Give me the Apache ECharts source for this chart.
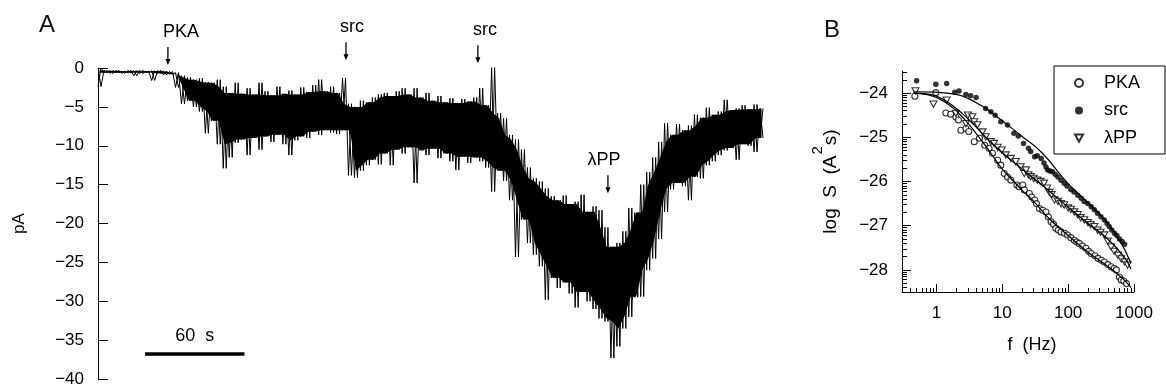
<!DOCTYPE html>
<html>
<head>
<meta charset="utf-8">
<script src="https://cdn.jsdelivr.net/npm/echarts@6/dist/echarts.min.js"></script>
<style>
  html, body { margin: 0; padding: 0; background: #fff; }
  #main { width: 1166px; height: 389px; }
</style>
</head>
<body>
<div id="main"></div>
<script>
// ---- panel A: current trace (pA), envelope every ~3.6 s ----
const traceStep = 3.6; // s
const traceHi = [
  0, -0.3, -0.35, -0.3, -0.4, -0.3, -0.35, -0.3, -0.4, -0.35,
  -0.3, -0.4, -0.45, -0.6, -1.0, -1.2, -1.5, -1.3, -1.8, -1.9,
  -1.5, -2.4, -3.2, -1.9, -3.3, -2.6, -3.4, -1.9, -3.0, -3.5,
  -2.4, -3.3, -2.9, -3.4, -2.5, -3.1, -2.2, -1.5, -3.0, -2.4,
  -3.2, -1.3, -4.6, -5.0, -4.2, -4.4, -3.8, -3.4, -3.2, -3.6,
  -3.0, -2.6, -3.4, -2.6, -3.8, -3.2, -4.2, -3.6, -4.4, -3.9,
  -4.5, -4.0, -4.3, -3.8, -2.6, -4.8, 0.1, -5.8, -6.5, -8.6,
  -9.2, -10.5, -12.8, -14.2, -14.6, -15.5, -16.5, -17.0, -16.4, -17.5,
  -17.2, -16.3, -18.5, -17.8, -18.3, -20.5, -23.0, -22.5, -21.0, -18.0,
  -18.6, -15.0, -13.4, -11.5, -9.5, -7.1, -8.6, -7.2, -8.0, -7.4,
  -6.0, -6.4, -5.1, -6.0, -5.6, -4.1, -5.4, -5.2, -4.8, -5.3,
  -4.7, -5.2
];
const traceLo = [
  -2.4, -0.6, -0.7, -0.6, -0.7, -0.6, -1.0, -0.7, -0.6, -1.6,
  -0.7, -0.9, -0.8, -2.5, -4.6, -4.2, -5.0, -5.6, -8.4, -6.8,
  -9.8, -12.9, -11.5, -9.6, -9.2, -11.2, -9.0, -10.5, -8.8, -9.5,
  -8.6, -9.8, -11.2, -9.3, -8.8, -9.0, -8.2, -8.6, -8.0, -8.3,
  -8.5, -8.0, -13.8, -14.1, -13.2, -12.5, -11.8, -12.4, -11.0, -12.5,
  -10.5, -11.0, -10.2, -14.8, -10.6, -11.2, -10.4, -11.6, -11.0, -12.0,
  -13.1, -11.4, -12.2, -11.5, -12.0, -12.8, -15.9, -13.2, -14.5, -17.0,
  -24.3, -19.5, -22.5, -24.0, -25.5, -29.8, -27.0, -28.3, -27.6, -29.0,
  -30.8, -28.8, -30.0, -31.0, -32.2, -32.6, -37.3, -35.8, -33.5, -32.0,
  -29.5, -29.4, -26.0, -24.5, -22.0, -18.5, -15.6, -14.8, -15.2, -17.0,
  -14.0, -14.2, -12.5, -12.0, -11.2, -10.6, -10.3, -11.8, -9.8, -10.0,
  -10.8, -9.0
];

// drug additions: name, time (s), level of arrow tip (pA)
const eventNames = ['PKA', 'src', 'src', 'λPP'];
const eventTimes = [42.2, 149.7, 229.3, 307.8];
const eventTips = [0.4, 1.0, 0.6, -16.1];

// 60 s scale bar
const scaleBarStart = 28.4;
const scaleBarLen = 60;
const scaleBarLevel = -36.8;

// ---- panel B: spectra, log S (A^2 s) vs f (Hz) ----
const pkaF = [0.47, 0.98, 1.39, 1.65, 1.97, 2.16, 2.35, 2.8, 3.1, 3.75, 4.5, 5.4, 6.3, 7.1, 8.5, 9.5, 10.7, 12,
  13.5, 16.7, 18, 20.5, 21.6, 25.8, 28, 31, 33, 36.6, 41, 46, 50, 55, 60, 65, 71, 78, 88, 98, 110, 124, 135, 147, 165, 186, 205,
  224, 255, 285, 320, 355, 400, 450, 500, 540, 600, 640, 700, 770];
const pkaS = [-24.07, -23.99, -24.45, -24.48, -24.54, -24.61, -24.84, -24.80, -24.87, -25.10, -25.02, -25.18, -25.25, -25.36, -25.52, -25.63, -25.82, -25.90,
  -25.97, -26.08, -26.12, -26.08, -26.19, -26.27, -26.35, -26.42, -26.50, -26.61, -26.65, -26.69, -26.80, -26.91, -26.97, -27.06, -27.10, -27.14, -27.17, -27.21, -27.27, -27.33, -27.37, -27.40, -27.46, -27.51, -27.58,
  -27.63, -27.68, -27.74, -27.78, -27.82, -27.88, -27.93, -27.97, -28.0, -28.16, -28.23, -28.25, -28.31];
const srcF = [0.5, 0.98, 1.43, 1.9, 2.2, 2.8, 3.3, 4.0, 5.6, 6.7, 7.8, 9.5, 12, 15, 17.5, 21, 25, 27, 31, 34, 39, 43, 46, 49, 53, 58, 64, 70,
  78, 87, 96, 110, 123, 140, 158, 175, 198, 224, 250, 280, 315, 355, 390, 420, 460, 505, 550, 600, 660, 720];
const srcS = [-23.72, -23.80, -23.78, -23.98, -23.95, -24.03, -24.06, -24.10, -24.35, -24.42, -24.50, -24.65, -24.72, -24.91, -24.97, -25.14, -25.25, -25.32, -25.44, -25.42, -25.48, -25.58, -25.67, -25.74, -25.76, -25.78, -25.84, -25.90,
  -25.97, -26.04, -26.10, -26.18, -26.24, -26.31, -26.38, -26.45, -26.50, -26.57, -26.64, -26.72, -26.80, -26.87, -26.95, -27.02, -27.10, -27.17, -27.22, -27.30, -27.36, -27.42];
const lppF = [0.48, 0.9, 1.43, 1.97, 2.8, 3.0, 3.5, 3.75, 4.2, 5.0, 5.6, 6.7, 7.5, 8.5, 9.8, 11.3, 13.5, 16, 19, 21.6, 23, 25, 27, 30, 34, 38, 43,
  48, 52, 56, 62, 70, 78, 87, 100, 110, 124, 140, 155, 176, 200, 220, 250, 280, 310, 355, 400, 450, 500, 570, 640, 720, 800];
const lppS = [-23.95, -24.25, -24.16, -24.46, -24.69, -24.50, -24.54, -24.65, -24.72, -24.88, -24.99, -25.10, -25.14, -25.23, -25.29, -25.40, -25.48, -25.55, -25.67, -25.82, -25.74, -25.85, -25.89, -25.93, -25.97, -26.00, -26.04,
  -26.15, -26.25, -26.30, -26.42, -26.45, -26.50, -26.53, -26.60, -26.63, -26.69, -26.75, -26.82, -26.87, -26.93, -26.98, -27.02, -27.10, -27.15, -27.21, -27.35, -27.48, -27.58, -27.67, -27.75, -27.82, -27.89];

// fitted curves
const pkaFitF = [0.45, 0.7, 1, 1.5, 2, 3, 5, 7, 10, 15, 20, 30, 50, 100, 200, 400, 700, 900];
const pkaFitS = [-24.0, -24.03, -24.1, -24.25, -24.4, -24.68, -25.1, -25.4, -25.72, -26.0, -26.2, -26.45, -26.82, -27.22, -27.6, -27.92, -28.22, -28.4];
const srcFitF = [0.45, 1, 2, 3, 5, 8, 12, 20, 40, 100, 200, 400, 600, 900];
const srcFitS = [-23.97, -23.98, -24.03, -24.12, -24.3, -24.52, -24.72, -24.98, -25.35, -26.05, -26.48, -26.95, -27.32, -27.85];
const lppFitF = [0.45, 0.8, 1.2, 2, 3, 5, 8, 12, 20, 40, 100, 200, 400, 700, 900];
const lppFitS = [-24.0, -24.03, -24.12, -24.35, -24.58, -24.92, -25.22, -25.45, -25.72, -26.08, -26.58, -26.95, -27.3, -27.7, -27.98];

const xMajorB = [1, 10, 100, 1000];
const yMajorB = [-28, -27, -26, -25, -24];

const FONT = 'Liberation Sans, Arial, sans-serif';
const minus = v => String(v).replace('-', '\u2212');
const zip = (a, b) => a.map((v, i) => [v, b[i]]);

// minor ticks (log spaced, as on the original axes)
const xMinorB = [];
[0.1, 1, 10, 100].forEach(d => { for (let k = 2; k <= 9; k++) { const v = d * k; if (v >= 0.3 && v < 1000) xMinorB.push(+v.toFixed(3)); } });
const yMinorB = [];
[-29, -28, -27, -26, -25, -24].forEach(n => { for (let k = 2; k <= 9; k++) { const v = n + Math.log10(k); if (v >= -28.5 && v <= -23.5) yMinorB.push(v); } });

// zig-zag the trace between its upper and lower excursions
const traceA = [], traceB = [];
traceHi.forEach((h, i) => {
  const t = i * traceStep;
  traceA.push([t, h], [t + traceStep / 2, traceLo[i]]);
  traceB.push([t, traceLo[i]], [t + traceStep / 2, h]);
});
// solid core of the noise band: the part every neighbouring excursion covers
const coreTop = [], coreBot = [];
traceHi.forEach((h, i) => {
  const l = traceLo[i];
  const bot = Math.max(l, traceLo[i - 1] ?? l, traceLo[i + 1] ?? l);
  const top = Math.max(bot, Math.min(h, traceHi[i - 1] ?? h, traceHi[i + 1] ?? h));
  const t = i * traceStep + traceStep / 4;
  coreTop.push([t, top]);
  coreBot.push([t, bot]);
});
const traceEnd = (traceHi.length - 1) * traceStep + traceStep / 2;

const chart = echarts.init(document.getElementById('main'));

const option = {
  animation: false,
  textStyle: { fontFamily: FONT, color: '#000' },
  grid: [
    { left: 98, top: 68, right: 403, bottom: 10, containLabel: false },
    { left: 902, top: 71, right: 32, bottom: 97, containLabel: false }
  ],
  legend: {
    data: ['PKA', 'src', 'λPP'],
    orient: 'vertical',
    left: 1054,
    top: 66,
    padding: [7, 25, 6, 20],
    itemWidth: 8,
    itemHeight: 8,
    itemGap: 7.5,
    borderColor: '#000',
    borderWidth: 1,
    textStyle: { fontSize: 18, color: '#000', fontFamily: FONT, lineHeight: 20, padding: [0, 0, 0, 16] }
  },
  xAxis: [
    { gridIndex: 0, type: 'value', min: 0, max: traceEnd, show: false },
    {
      gridIndex: 1, type: 'log', logBase: 10, min: 0.3, max: 1000, position: 'bottom',
      axisLine: { lineStyle: { color: '#000', width: 1 } },
      axisTick: { inside: true, length: 8, customValues: xMajorB, lineStyle: { color: '#000' } },
      axisLabel: { customValues: xMajorB, fontSize: 17, color: '#000', margin: 13, formatter: v => String(v) },
      splitLine: { show: false },
      name: 'f  (Hz)', nameLocation: 'middle', nameGap: 44,
      nameTextStyle: { fontSize: 18, color: '#000', padding: [0, 0, 0, 28] }
    },
    {
      gridIndex: 1, type: 'log', logBase: 10, min: 0.3, max: 1000, position: 'bottom',
      axisLine: { show: false },
      axisTick: { inside: true, length: 4, customValues: xMinorB, lineStyle: { color: '#000' } },
      axisLabel: { show: false },
      splitLine: { show: false }
    }
  ],
  yAxis: [
    {
      gridIndex: 0, type: 'value', min: -40, max: 0, interval: 5, position: 'left',
      axisLine: { show: true, lineStyle: { color: '#000', width: 1 } },
      axisTick: { show: true, inside: true, length: 10, lineStyle: { color: '#000' } },
      axisLabel: { fontSize: 17, color: '#000', margin: 14, formatter: minus },
      splitLine: { show: false },
      name: 'pA', nameLocation: 'middle', nameGap: 70,
      nameTextStyle: { fontSize: 17, color: '#000' }
    },
    {
      gridIndex: 1, type: 'value', min: -28.5, max: -23.5, position: 'left',
      axisLine: { show: true, lineStyle: { color: '#000', width: 1 } },
      axisTick: { show: true, inside: true, length: 9, customValues: yMajorB, lineStyle: { color: '#000' } },
      axisLabel: { customValues: yMajorB, fontSize: 17, color: '#000', margin: 14, formatter: minus },
      splitLine: { show: false },
      name: '{n|log  S  (A}{sup|2}{n|s)}', nameLocation: 'middle', nameGap: 62,
      nameTextStyle: {
        color: '#000',
        rich: {
          n: { fontSize: 19, fontFamily: FONT, color: '#000', lineHeight: 30, verticalAlign: 'bottom' },
          sup: { fontSize: 15, fontFamily: FONT, color: '#000', lineHeight: 30, verticalAlign: 'top', padding: [0, 1, 0, 1] }
        }
      }
    },
    {
      gridIndex: 1, type: 'value', min: -28.5, max: -23.5, position: 'left',
      axisLine: { show: false },
      axisTick: { show: true, inside: true, length: 5, customValues: yMinorB, lineStyle: { color: '#000' } },
      axisLabel: { show: false },
      splitLine: { show: false }
    }
  ],
  series: [
    {
      name: 'core', type: 'custom', xAxisIndex: 0, yAxisIndex: 0, data: coreTop, silent: true,
      renderItem: (params, api) => {
        if (params.dataIndex !== 0) return null;
        const pts = coreTop.map(p => api.coord(p)).concat(coreBot.slice().reverse().map(p => api.coord(p)));
        return { type: 'polygon', shape: { points: pts }, style: { fill: '#000' } };
      }
    },
    {
      name: 'trace', type: 'line', xAxisIndex: 0, yAxisIndex: 0, data: traceA,
      symbol: 'none', lineStyle: { color: '#000', width: 1 }, silent: true
    },
    {
      name: 'trace2', type: 'line', xAxisIndex: 0, yAxisIndex: 0, data: traceB,
      symbol: 'none', lineStyle: { color: '#000', width: 1 }, silent: true
    },
    {
      name: 'scale', type: 'line', xAxisIndex: 0, yAxisIndex: 0,
      data: [[scaleBarStart, scaleBarLevel], [scaleBarStart + scaleBarLen, scaleBarLevel]],
      symbol: 'none', lineStyle: { color: '#000', width: 3.5 }, silent: true
    },
    { name: 'PKA fit', type: 'line', xAxisIndex: 1, yAxisIndex: 1, data: zip(pkaFitF, pkaFitS), smooth: true, symbol: 'none', lineStyle: { color: '#000', width: 1.2 } },
    { name: 'src fit', type: 'line', xAxisIndex: 1, yAxisIndex: 1, data: zip(srcFitF, srcFitS), smooth: true, symbol: 'none', lineStyle: { color: '#000', width: 1.2 } },
    { name: 'λPP fit', type: 'line', xAxisIndex: 1, yAxisIndex: 1, data: zip(lppFitF, lppFitS), smooth: true, symbol: 'none', lineStyle: { color: '#000', width: 1.2 } },
    {
      name: 'PKA', type: 'scatter', xAxisIndex: 1, yAxisIndex: 1, data: zip(pkaF, pkaS),
      symbol: 'circle', symbolSize: 6, itemStyle: { color: '#fff', borderColor: '#000', borderWidth: 1.1 }
    },
    {
      name: 'src', type: 'scatter', xAxisIndex: 1, yAxisIndex: 1, data: zip(srcF, srcS),
      symbol: 'circle', symbolSize: 5.5, itemStyle: { color: '#000' }
    },
    {
      name: 'λPP', type: 'scatter', xAxisIndex: 1, yAxisIndex: 1, data: zip(lppF, lppS),
      symbol: 'path://M0,0L10,0L5,9Z', symbolKeepAspect: true, symbolSize: 7,
      itemStyle: { color: '#fff', borderColor: '#000', borderWidth: 1.1 }
    }
  ]
};

chart.setOption(option);

// annotations placed through the trace's own axes
const toPx = (t, v) => chart.convertToPixel({ xAxisIndex: 0, yAxisIndex: 0 }, [t, v]);
const labelDx = [13, 6, 7, -4];
const graphics = [
  { type: 'text', x: 47, y: 25, style: { text: 'A', fontSize: 24, fontFamily: FONT, fill: '#111', align: 'center', verticalAlign: 'middle' } },
  { type: 'text', x: 832, y: 30, style: { text: 'B', fontSize: 24, fontFamily: FONT, fill: '#111', align: 'center', verticalAlign: 'middle' } }
];
eventNames.forEach((name, k) => {
  const [x, y] = toPx(eventTimes[k], eventTips[k]);
  graphics.push({ type: 'line', shape: { x1: x, y1: y - 18, x2: x, y2: y - 5 }, style: { stroke: '#000', lineWidth: 1.3 } });
  graphics.push({ type: 'polygon', shape: { points: [[x - 2.5, y - 6], [x + 2.5, y - 6], [x, y]] }, style: { fill: '#000' } });
  graphics.push({ type: 'text', x: x + labelDx[k], y: y - 33, style: { text: name, fontSize: 18, fontFamily: FONT, fill: '#000', align: 'center', verticalAlign: 'middle' } });
});
const [bx, by] = toPx(scaleBarStart + scaleBarLen / 2, scaleBarLevel);
graphics.push({ type: 'text', x: bx, y: by - 18, style: { text: '60  s', fontSize: 18, fontFamily: FONT, fill: '#000', align: 'center', verticalAlign: 'middle' } });

chart.setOption({ graphic: graphics });
</script>
</body>
</html>
